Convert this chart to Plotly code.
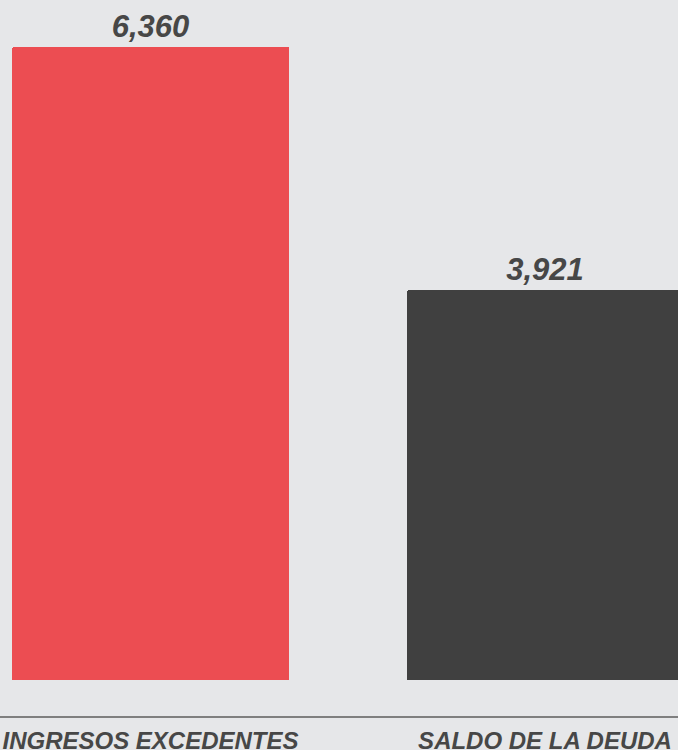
import plotly.graph_objects as go

categories = ["INGRESOS EXCEDENTES", "SALDO DE LA DEUDA"]
values = [6360, 3921]
colors = ["#EC4D52", "#404040"]
labels = ["6,360", "3,921"]

fig = go.Figure()
fig.add_trace(go.Bar(
    x=categories,
    y=values,
    marker=dict(color=colors, line=dict(width=0), cornerradius=2),
    width=0.702,
    text=labels,
    textposition="outside",
    cliponaxis=False,
    textfont=dict(family="Liberation Sans, Arial, sans-serif", size=31,
                  color="#474747", weight="bold", style="italic"),
))

fig.update_layout(
    width=678, height=750,
    margin=dict(l=0, r=0, t=0, b=34, pad=0, autoexpand=False),
    paper_bgcolor="#E6E7E9",
    plot_bgcolor="#E6E7E9",
    showlegend=False,
    bargap=0,
    font=dict(family="Liberation Sans, Arial, sans-serif"),
)
fig.update_xaxes(
    type="category",
    range=[-0.3815, 1.3371],
    automargin=False,
    showline=True, linecolor="#7F7F7F", linewidth=1.5,
    showgrid=False, zeroline=False, ticks="",
    ticklabelstandoff=2,
    tickfont=dict(family="Liberation Sans, Arial, sans-serif", size=24,
                  color="#474747", weight="bold", style="italic"),
)
fig.update_yaxes(
    range=[-361.7, 6832],
    automargin=False,
    visible=False, showgrid=False, zeroline=False,
)

fig.write_html(
    "out.html",
    config={"displayModeBar": False},
    post_script="document.body.style.margin='0';document.body.style.overflow='hidden';",
)
